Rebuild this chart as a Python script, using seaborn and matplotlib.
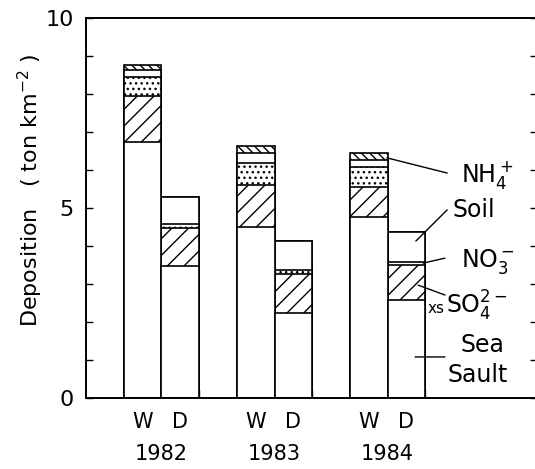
import matplotlib
matplotlib.use("Agg")
import matplotlib.pyplot as plt
import numpy as np
import pandas as pd
import seaborn as sns

# ---- data (ton km^-2) ----
years = ["1982", "1983", "1984"]
bar_labels = ["W", "D", "W", "D", "W", "D"]
bar_pos = [1.5, 2.5, 4.5, 5.5, 7.5, 8.5]
sea_salt = [6.73, 3.47, 4.51, 2.25, 4.77, 2.58]
xs_so4 = [1.21, 1.00, 1.10, 1.01, 0.79, 0.92]
no3 = [0.52, 0.10, 0.58, 0.11, 0.53, 0.09]
soil = [0.17, 0.73, 0.25, 0.76, 0.17, 0.77]
nh4 = [0.13, 0.00, 0.18, 0.00, 0.18, 0.00]

sns.set_style("ticks")
plt.rcParams["font.family"] = ["DejaVu Sans"]
plt.rcParams["hatch.linewidth"] = 1.0
for key in ["text.color", "axes.labelcolor", "xtick.color", "ytick.color",
            "axes.edgecolor", "hatch.color"]:
    plt.rcParams[key] = "black"

fig = plt.figure(figsize=(5.35, 4.69), dpi=100)
W, H = 535, 469
ax = fig.add_axes([86 / W, 1 - 398 / H, 451 / W, 380 / H])

layers = [sea_salt, xs_so4, no3, soil, nh4]
hatches = ["", "//", "...", "", "\\\\\\\\"]
cums = np.cumsum(np.array(layers), axis=0)

# draw from top layer down so lower layers cover upper ones
for k in range(len(layers) - 1, -1, -1):
    df = pd.DataFrame({"x": bar_pos, "y": cums[k]})
    sns.barplot(data=df, x="x", y="y", native_scale=True, width=1.0,
                color="white", edgecolor="black", linewidth=1.2,
                hatch=hatches[k], ax=ax, zorder=2, errorbar=None)
for p in ax.patches:
    p.set_facecolor("white")
    p.set_alpha(1)

ax.set_xlim(0, 451 / 37.7)
ax.set_ylim(0, 10)
ax.set_xlabel("")
ax.set_ylabel("")
for s in ["left", "right", "top", "bottom"]:
    ax.spines[s].set_visible(True)
    ax.spines[s].set_linewidth(1.4)
    ax.spines[s].set_color("black")

ax.set_yticks([0, 5, 10])
ax.set_yticklabels(["0", "5", "10"], fontsize=16)
ax.set_yticks(np.arange(0, 11, 1), minor=True)
ax.tick_params(axis="y", which="both", direction="in", length=5, width=1.0,
               right=True, pad=9, colors="black")
ax.set_xticks(np.arange(1, 10, 1))
ax.set_xticklabels([])
ax.tick_params(axis="x", which="major", direction="in", length=6, width=1.0,
               colors="black")
ax.tick_params(axis="x", which="minor", bottom=False, top=False)

# category labels
for xp, lab in zip(bar_pos, bar_labels):
    ax.text(xp, -0.62, lab, ha="center", va="center", fontsize=15)
for i, yr in enumerate(years):
    ax.text(bar_pos[2 * i] + 0.5, -1.48, yr, ha="center", va="center", fontsize=15)

fig.text(30 / W, 1 - 190 / H, "Deposition   ( ton km$^{-2}$ )", rotation=90,
         ha="center", va="center", fontsize=16)

# leader lines and component labels
line_kw = dict(arrowprops=dict(arrowstyle="-", color="black", lw=1.0,
                               shrinkA=0, shrinkB=0))
ax.annotate("", xy=(7.98, 6.32), xytext=(9.58, 5.92), **line_kw)
ax.annotate("", xy=(8.75, 4.13), xytext=(9.58, 4.95), **line_kw)
ax.annotate("", xy=(8.94, 3.55), xytext=(9.52, 3.68), **line_kw)
ax.annotate("", xy=(8.81, 2.97), xytext=(9.52, 2.71), **line_kw)
ax.annotate("", xy=(8.73, 1.08), xytext=(9.52, 1.08), **line_kw)

ax.text(9.95, 5.87, "NH$_4^+$", ha="left", va="center", fontsize=17)
ax.text(9.73, 4.95, "Soil", ha="left", va="center", fontsize=17)
ax.text(9.95, 3.6, "NO$_3^-$", ha="left", va="center", fontsize=17)
ax.text(9.05, 2.36, "xs", ha="left", va="center", fontsize=11)
ax.text(9.55, 2.42, "SO$_4^{2-}$", ha="left", va="center", fontsize=17)
ax.text(10.52, 1.39, "Sea", ha="center", va="center", fontsize=17)
ax.text(10.40, 0.61, "Sault", ha="center", va="center", fontsize=17)

fig.savefig("out.png", dpi=100)
